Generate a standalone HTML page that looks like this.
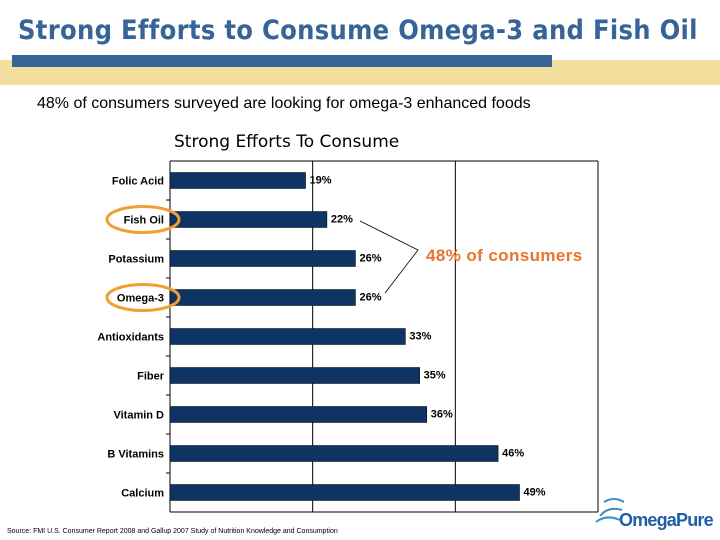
<!DOCTYPE html>
<html><head><meta charset="utf-8"><style>
body{margin:0;width:720px;height:540px;background:#fff;position:relative;overflow:hidden;font-family:"Liberation Sans",sans-serif}
.t{position:absolute;white-space:nowrap}
</style></head><body>
<div class="t" style="left:18px;top:15px;font-size:27px;font-weight:bold;color:#366496;letter-spacing:0.3px;font-family:'DejaVu Sans Condensed','Liberation Sans Narrow','Liberation Sans',sans-serif">Strong Efforts to Consume Omega-3 and Fish Oil</div>
<div class="t" style="left:0;top:60px;width:720px;height:25px;background:#f2df9e"></div>
<div class="t" style="left:12px;top:55px;width:540px;height:12px;background:#366496"></div>
<div class="t" style="left:37px;top:95px;font-size:16px;color:#000">48% of consumers surveyed are looking for omega-3 enhanced foods</div>
<div class="t" style="left:174px;top:132px;font-size:17px;color:#000;font-family:'DejaVu Sans',sans-serif">Strong Efforts To Consume</div>
<svg class="t" style="left:0;top:0" width="720" height="540" id="chart"></svg>
<div class="t" style="left:7px;top:528px;font-size:7px;color:#000">Source: FMI U.S. Consumer Report 2008 and Gallup 2007 Study of Nutrition Knowledge and Consumption</div>
<div class="t" style="left:619px;top:510px;font-size:18px;font-weight:bold;color:#1f5fa6;font-family:'Liberation Sans Narrow','Liberation Sans',sans-serif;letter-spacing:-0.8px">OmegaPure</div>
<svg class="t" style="left:590px;top:494px" width="40" height="36"><path d="M6 28 Q16 20 30 26 M10 22 Q18 12 32 16 M14 8 Q24 2 34 8" stroke="#3a8fc4" stroke-width="2" fill="none"/></svg>
<script>
const categories=["Folic Acid","Fish Oil","Potassium","Omega-3","Antioxidants","Fiber","Vitamin D","B Vitamins","Calcium"];
const values=[19,22,26,26,33,35,36,46,49];
const gridTicks=[20,40,60];
const L=170,T=161,R=598,B=512,MAX=60;
const x=v=>L+(R-L)*v/MAX;
const band=(B-T)/categories.length;
const y=i=>T+band*i;
const ns="http://www.w3.org/2000/svg",svg=document.getElementById('chart');
function mk(tag,a){const e=document.createElementNS(ns,tag);for(const k in a)e.setAttribute(k,a[k]);svg.appendChild(e);return e;}
gridTicks.forEach(t=>{const g=mk('line',{x1:x(t),x2:x(t),y1:T,y2:B,stroke:'#000','stroke-width':1});

});
const ax=mk('line',{x1:L,x2:L,y1:T,y2:B,stroke:'#000'});


for(let i=1;i<categories.length;i++){const tk=mk('line',{x1:L-4,x2:L,y1:y(i),y2:y(i),stroke:'#000'});

}
const topBorder=mk('line',{x1:L,x2:R,y1:T,y2:T,stroke:'#000'});


const bottomBorder=mk('line',{x1:L,x2:R,y1:B,y2:B,stroke:'#000'});


categories.forEach((c,i)=>{
 const cy=y(i)+band/2;
 const b=mk('rect',{x:L,y:cy-8,width:x(values[i])-L,height:16,fill:'#0d3463',stroke:'#000','stroke-width':0.5});
 
 
 const lt=mk('text',{x:L-6,y:cy+4,'text-anchor':'end','font-size':11,'font-weight':'bold','font-family':'Liberation Sans, sans-serif'});
 lt.textContent=c;
 
 
 const vt=mk('text',{x:x(values[i])+4,y:cy+3,'font-size':11,'font-weight':'bold','font-family':'Liberation Sans, sans-serif'});
 vt.textContent=values[i]+'%';
 
 
 if(c==="Fish Oil"||c==="Omega-3"){
  const el=mk('ellipse',{cx:143,cy:cy,rx:36,ry:13,fill:'none',stroke:'#f0a030','stroke-width':3});
  
  
 }
});
const br=mk('polyline',{points:'360,221 418,250 385,293',fill:'none',stroke:'#000','stroke-width':0.8});


const ann=mk('text',{x:426,y:261,'font-size':17,'font-weight':'bold',fill:'#e8742a','font-family':'Liberation Sans, sans-serif','letter-spacing':0.4});
ann.textContent='48% of consumers';


</script>
</body></html>
